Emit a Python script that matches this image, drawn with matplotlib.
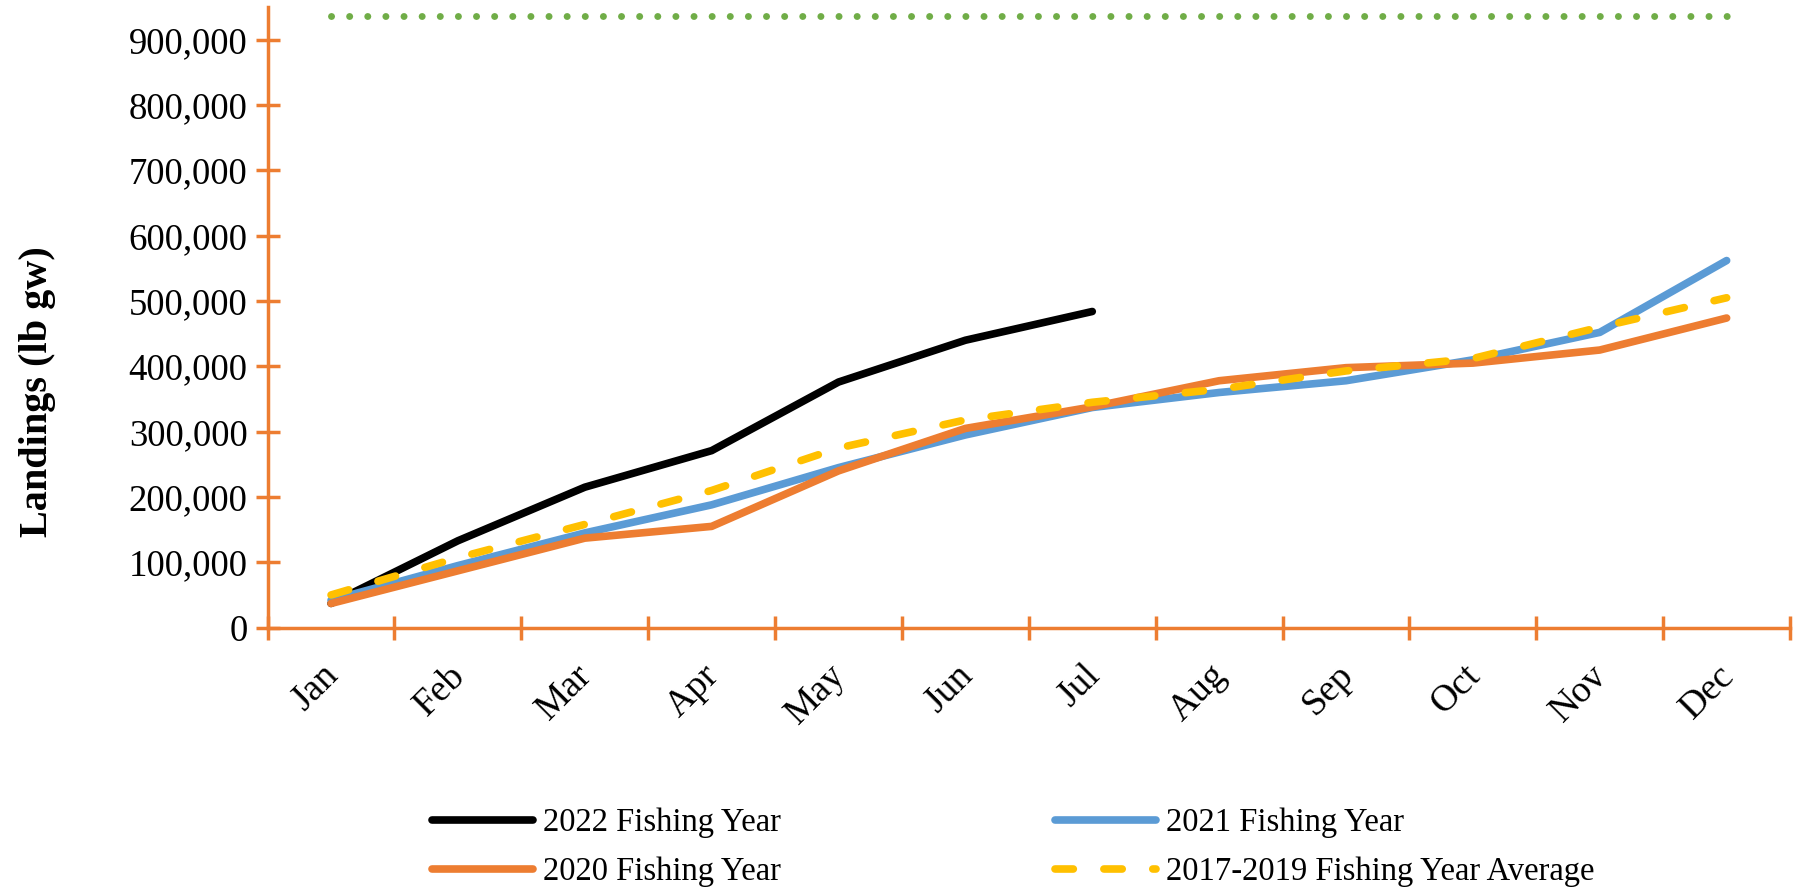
import matplotlib.pyplot as plt
import matplotlib.ticker as mticker
from matplotlib.transforms import ScaledTranslation

# Dados
meses = ['Jan', 'Feb', 'Mar', 'Apr', 'May', 'Jun', 'Jul', 'Aug', 'Sep', 'Oct', 'Nov', 'Dec']
fy2022 = [37000, 133000, 215000, 271000, 376000, 440000, 484000]
fy2021 = [42000, 95000, 145000, 188000, 245000, 295000, 337000, 360000, 378000, 410000, 452000, 562000]
fy2020 = [37000, 87000, 137000, 155000, 240000, 305000, 338000, 378000, 398000, 405000, 425000, 474000]
media_17_19 = [50000, 107000, 158000, 210000, 275000, 318000, 345000, 365000, 393000, 412000, 460000, 505000]
acl = 937000

laranja = '#ED7D31'

plt.rcParams['font.family'] = ['Liberation Serif', 'DejaVu Serif']

fig = plt.figure(figsize=(17.96, 8.89), dpi=100)
ax = fig.add_axes([0.149, 0.294, 0.8477, 0.698])

x = list(range(len(meses)))

ax.hlines(acl, 0, len(meses) - 1, colors='#70AD47', linewidth=5,
          linestyles=[(0, (0.01, 2.6))], capstyle='round')

l22, = ax.plot(x[:len(fy2022)], fy2022, color='black', lw=5.5, solid_capstyle='round',
               label='2022 Fishing Year')
l21, = ax.plot(x, fy2021, color='#5B9BD5', lw=5.5, solid_capstyle='round',
               label='2021 Fishing Year')
l20, = ax.plot(x, fy2020, color=laranja, lw=5.5, solid_capstyle='round',
               label='2020 Fishing Year')
lmed, = ax.plot(x, media_17_19, color='#FFC000', lw=5.5, dash_capstyle='round',
                dashes=(2.4, 4.0), label='2017-2019 Fishing Year Average')

ax.set_xlim(-0.5, len(meses) - 0.5)
ax.set_ylim(0, 950000)

# eixos estilo Excel
for lado in ['top', 'right']:
    ax.spines[lado].set_visible(False)
for lado in ['left', 'bottom']:
    ax.spines[lado].set_color(laranja)
    ax.spines[lado].set_linewidth(2.5)

ax.set_yticks(range(0, 900001, 100000))
ax.yaxis.set_major_formatter(mticker.FuncFormatter(lambda v, p: f'{int(v):,}'))
ax.tick_params(axis='y', direction='inout', length=17, width=2.5, color=laranja,
               labelsize=26.5, pad=6)

ax.set_xticks([i - 0.5 for i in range(len(meses) + 1)])
ax.set_xticklabels([])
ax.set_xticks(x, minor=True)
ax.set_xticklabels(meses, minor=True, rotation=45, ha='right', rotation_mode='anchor')
ax.tick_params(axis='x', which='major', direction='inout', length=17, width=2.5, color=laranja)
ax.tick_params(axis='x', which='minor', length=0, labelsize=27, pad=22)
desloc = ScaledTranslation(-10 / 100, 0, fig.dpi_scale_trans)
for rot in ax.get_xticklabels(minor=True):
    rot.set_transform(rot.get_transform() + desloc)

ax.set_ylabel('Landings (lb gw)', fontsize=29, fontweight='bold')
ax.yaxis.set_label_coords(-0.139, 0.38)

fig.legend(handles=[l22, l20, l21, lmed], ncol=2, loc='upper left',
           bbox_to_anchor=(0.237, 0.099), frameon=False, fontsize=23.5,
           handlelength=3.1, columnspacing=8.4, labelspacing=0.58, handletextpad=0.3,
           borderaxespad=0, borderpad=0.2)

fig.savefig('out.png', dpi=100)
